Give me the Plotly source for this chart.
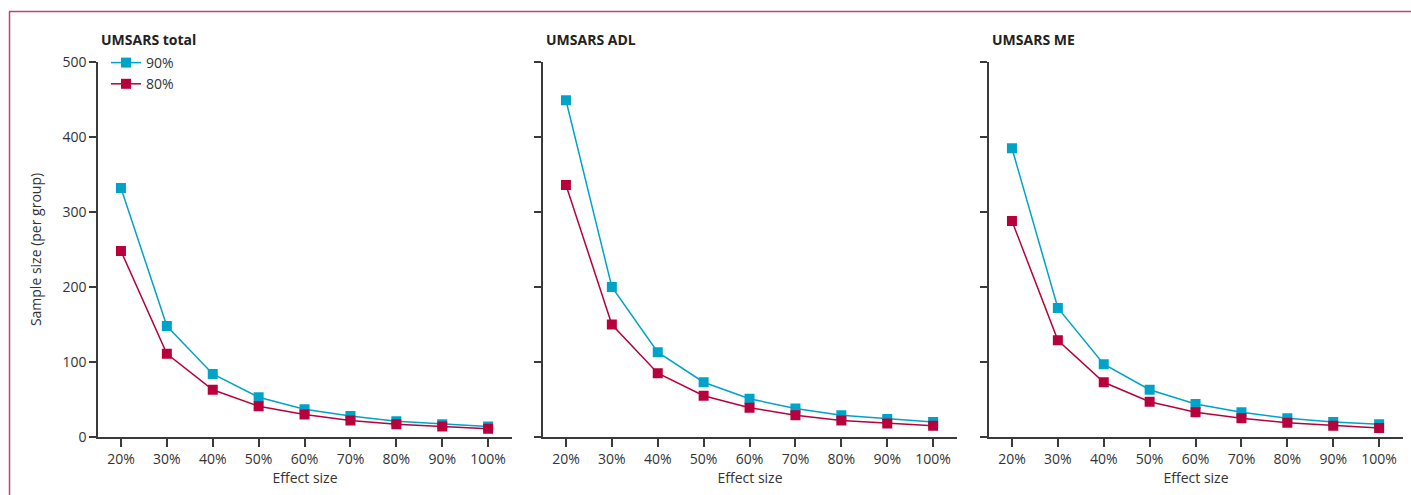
import plotly.graph_objects as go

effect_sizes = ["20%", "30%", "40%", "50%", "60%", "70%", "80%", "90%", "100%"]
panel_titles = ["UMSARS total", "UMSARS ADL", "UMSARS ME"]

total_90 = [332, 148, 84, 53, 37, 28, 21, 17, 14]
total_80 = [248, 111, 63, 41, 30, 22, 17, 14, 11]
adl_90 = [449, 200, 113, 73, 51, 38, 29, 24, 20]
adl_80 = [336, 150, 85, 55, 39, 29, 22, 18, 15]
me_90 = [385, 172, 97, 63, 44, 33, 25, 20, 17]
me_80 = [288, 129, 73, 47, 33, 25, 19, 15, 12]

y_ticks = [0, 100, 200, 300, 400, 500]

series = [(total_90, total_80), (adl_90, adl_80), (me_90, me_80)]

C90 = "#00A3C8"
C80 = "#B8003C"
AX = "#3a3a3a"
FONT = "Open Sans, Lato, sans-serif"
TXT = "#333333"
FRAME = "#C8426A"

W, H = 1411, 495
panels_px = [(98, 512), (543, 957), (989, 1403)]
y_top, y_bot = 62, 437

fig = go.Figure()
xpos = list(range(len(effect_sizes)))

for i, (s90, s80) in enumerate(series):
    xa = "x" if i == 0 else f"x{i+1}"
    ya = "y" if i == 0 else f"y{i+1}"
    fig.add_trace(go.Scatter(
        x=xpos, y=s90, mode="lines+markers", name="90%",
        line=dict(color=C90, width=1.5),
        marker=dict(symbol="square", size=10, color=C90),
        xaxis=xa, yaxis=ya, showlegend=(i == 0), legendrank=1))
    fig.add_trace(go.Scatter(
        x=xpos, y=s80, mode="lines+markers", name="80%",
        line=dict(color=C80, width=1.5),
        marker=dict(symbol="square", size=10, color=C80),
        xaxis=xa, yaxis=ya, showlegend=(i == 0), legendrank=2))

layout = dict(
    width=W, height=H, autosize=False,
    margin=dict(l=0, r=0, t=0, b=0, pad=0, autoexpand=False),
    paper_bgcolor="white", plot_bgcolor="white",
    font=dict(family=FONT, size=14, color=TXT),
    legend=dict(x=106 / W, y=1 - 47 / H, xanchor="left", yanchor="top",
                bgcolor="rgba(0,0,0,0)", itemwidth=30, tracegroupgap=0,
                font=dict(size=14, color=TXT)),
    annotations=[],
    shapes=[],
)

for i, (x0, x1) in enumerate(panels_px):
    xkey = "xaxis" if i == 0 else f"xaxis{i+1}"
    ykey = "yaxis" if i == 0 else f"yaxis{i+1}"
    layout[xkey] = dict(
        domain=[x0 / W, x1 / W], anchor="y" if i == 0 else f"y{i+1}",
        range=[-0.5, 8.52], tickmode="array", tickvals=xpos, ticktext=effect_sizes,
        showline=True, linecolor=AX, linewidth=1.5, ticks="outside", ticklen=8,
        tickcolor=AX, tickwidth=1.5, showgrid=False, zeroline=False, automargin=False,
        title=dict(text="Effect size", font=dict(size=14, color=TXT), standoff=4),
        tickfont=dict(size=14, color=TXT), fixedrange=True)
    layout[ykey] = dict(
        domain=[1 - y_bot / H, 1 - y_top / H], anchor="x" if i == 0 else f"x{i+1}",
        range=[0, 500], tickvals=y_ticks, showticklabels=(i == 0),
        showline=True, linecolor=AX, linewidth=1.5, ticks="outside", ticklen=7,
        tickcolor=AX, tickwidth=1.5, showgrid=False, zeroline=False, automargin=False,
        tickfont=dict(size=14, color=TXT), fixedrange=True,
        title=dict(text="Sample size (per group)" if i == 0 else "",
                   font=dict(size=14, color=TXT), standoff=18))
    layout["annotations"].append(dict(
        text=f"<b>{panel_titles[i]}</b>", xref="paper", yref="paper",
        x=(x0 + 1) / W, y=1 - 40 / H, xanchor="left", yanchor="middle",
        showarrow=False, font=dict(size=14, color="#222222")))

# decorative frame (top and left rule)
layout["shapes"].append(dict(type="line", xref="paper", yref="paper",
                             x0=9 / W, x1=1, y0=1 - 11.5 / H, y1=1 - 11.5 / H,
                             line=dict(color=FRAME, width=1.5)))
layout["shapes"].append(dict(type="line", xref="paper", yref="paper",
                             x0=9.5 / W, x1=9.5 / W, y0=0, y1=1 - 11.5 / H,
                             line=dict(color=FRAME, width=1.5)))

fig.update_layout(**layout)
fig.write_html("out.html",
               config={"displayModeBar": False},
               post_script="document.body.style.margin='0';document.body.style.overflow='hidden';")
